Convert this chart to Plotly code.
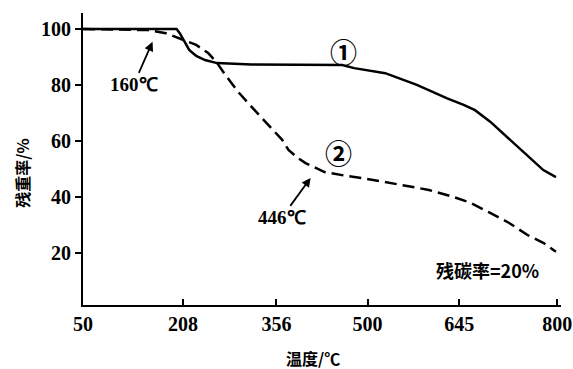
import plotly.graph_objects as go

# Temperature (°C) and residual mass (%)
temp_1 = [50, 198, 203, 211, 218, 229, 243, 262, 316, 390, 460, 479, 528, 578, 626, 652, 670, 694, 717, 742, 760, 778, 798]
mass_1 = [100, 100, 98.5, 95.5, 92.5, 90.4, 88.9, 87.8, 87.3, 87.2, 87.1, 86.0, 84.2, 80.0, 75.2, 72.9, 71.0, 66.9, 62.1, 56.8, 53.2, 49.6, 47.1]

temp_2 = [50, 152, 181, 210, 229, 248, 261, 275, 297, 321, 339, 350, 365, 375, 390, 402, 417, 432, 467, 490, 553, 597, 636, 663, 694, 724, 753, 778, 798]
mass_2 = [100, 99.6, 98.5, 96.1, 94.3, 91.4, 88.2, 83.6, 77.1, 71.1, 66.8, 63.9, 60.4, 56.8, 53.9, 52.1, 50.4, 48.9, 47.5, 46.8, 44.3, 42.5, 40.0, 37.9, 34.3, 30.7, 26.4, 23.6, 20.4]

x_ticks = [50, 208, 356, 500, 645, 800]
y_ticks = [20, 40, 60, 80, 100]

num_font = dict(family="Liberation Serif", size=20, color="black", weight="bold")
cjk_font = dict(family="Noto Sans CJK SC", size=16, color="black", weight="bold")

fig = go.Figure()
fig.add_trace(go.Scatter(x=temp_1, y=mass_1, mode="lines",
                         line=dict(color="black", width=2.5), showlegend=False))
fig.add_trace(go.Scatter(x=temp_2, y=mass_2, mode="lines",
                         line=dict(color="black", width=2.5, dash="12px,6px"), showlegend=False))

fig.update_layout(
    width=573, height=369,
    margin=dict(l=83, r=12, t=13, b=64),
    plot_bgcolor="white", paper_bgcolor="white",
    xaxis=dict(range=[50, 806], tickvals=x_ticks, ticks="inside", ticklen=6,
               tickwidth=1.5, tickcolor="black", showline=True, linecolor="black",
               linewidth=2, showgrid=False, zeroline=False, tickfont=num_font,
               automargin=False, ticklabeloverflow="allow"),
    yaxis=dict(range=[1.4, 105.7], tickvals=y_ticks, ticks="outside", ticklen=6,
               tickwidth=1.5, tickcolor="black", showline=True, linecolor="black",
               linewidth=2, showgrid=False, zeroline=False, tickfont=num_font,
               automargin=False, ticklabeloverflow="allow"),
)

arrow_font = dict(family="Liberation Serif", size=19, color="black", weight="bold")
circ_font = dict(family="Noto Sans CJK SC", size=27, color="black", weight="bold")

annotations = [
    dict(x=160, y=95.4, xref="x", yref="y", text="160℃", showarrow=True,
         arrowhead=2, arrowsize=1, arrowwidth=1.8, arrowcolor="black", ax=-19, ay=43,
         font=arrow_font),
    dict(x=410, y=46.8, xref="x", yref="y", text="446℃", showarrow=True,
         arrowhead=2, arrowsize=1, arrowwidth=1.8, arrowcolor="black", ax=-29, ay=40,
         font=arrow_font),
    dict(x=462, y=91.8, xref="x", yref="y", text="①", showarrow=False, font=circ_font),
    dict(x=454, y=56.0, xref="x", yref="y", text="②", showarrow=False, font=circ_font),
    dict(x=690, y=13.9, xref="x", yref="y", text="残碳率=20%", showarrow=False,
         font=dict(family="Noto Sans CJK SC", size=18, color="black", weight="bold")),
    dict(x=-0.128, y=0.452, xref="paper", yref="paper", text="残重率/%", showarrow=False,
         textangle=-90, xanchor="center", yanchor="middle", font=cjk_font),
    dict(x=0.482, y=-0.182, xref="paper", yref="paper", text="温度/℃", showarrow=False,
         xanchor="center", yanchor="middle", font=cjk_font),
]
fig.update_layout(annotations=annotations)

fig.write_html("out.html", config={"displayModeBar": False},
               post_script="document.body.style.margin='0';document.body.style.overflow='hidden';")
